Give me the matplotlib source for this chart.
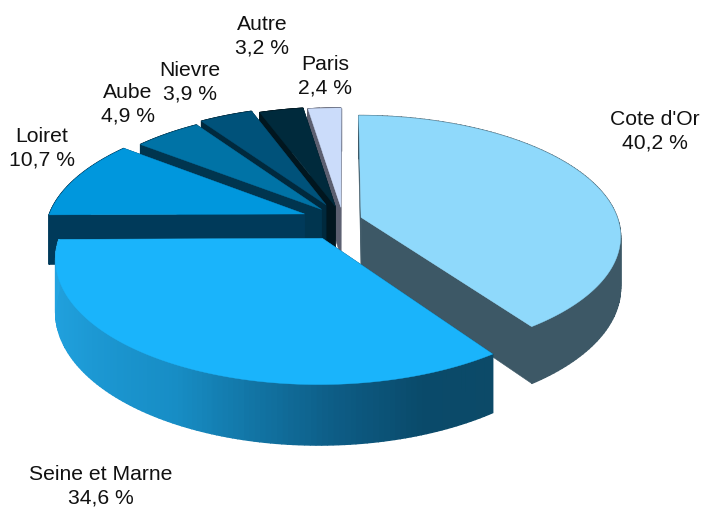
import numpy as np
import matplotlib
matplotlib.use("agg")
import matplotlib.pyplot as plt
from matplotlib.colors import LinearSegmentedColormap

names = ["Cote d'Or", "Seine et Marne", "Loiret", "Aube", "Nievre", "Autre", "Paris"]
values = [40.2, 34.6, 10.7, 4.9, 3.9, 3.2, 2.4]

top_colors = ["#8FD9FB", "#1AB4FB", "#0097DD", "#0073A6", "#00527A", "#002A3C", "#CBDCFA"]
wall_colors = ["#3D5866", "#0A4A68", "#003A5A", "#00354F", "#00293D", "#01161F", "#5B5F70"]
explode = [19, 44, 41, 32, 38, 31, 28]
label_pos = [(655, 131), (101, 486), (42, 148), (128, 104), (190, 82), (262, 36), (325, 76)]
draw_order = [6, 5, 4, 3, 2, 0, 1]

# pie geometry, in pixels
cx, cy = 343, 220
radius = 257
squash = 0.459
persp = 0.151
depth = 50

seine_cmap = LinearSegmentedColormap.from_list(
    "seine", [(0, "#0C4A68"), (0.12, "#0A4A6A"), (0.25, "#0D5C85"),
              (0.5, "#178DC5"), (0.75, "#1E9CD8"), (1, "#24A5E2")])


def project(x, z, down=0.0):
    s = 1 / (1 - persp * z / radius)
    return cx + x * s, cy + z * squash * s + down * s


fig = plt.figure(figsize=(7.05, 5.07), dpi=100)
ax = fig.add_axes([0, 0, 1, 1])
ax.set_xlim(0, 705)
ax.set_ylim(507, 0)
ax.axis("off")

edges = np.concatenate([[0], np.cumsum(values)]) / np.sum(values) * 2 * np.pi

for i in draw_order:
    t0, t1 = edges[i], edges[i + 1]
    mid = (t0 + t1) / 2
    ox = explode[i] * np.sin(mid)
    oz = -explode[i] * np.cos(mid)

    t = np.linspace(t0, t1, 120)
    arc_x = ox + radius * np.sin(t)
    arc_z = oz - radius * np.cos(t)

    # cut faces
    for te in (t0, t1):
        ex = ox + radius * np.sin(te)
        ez = oz - radius * np.cos(te)
        a = project(ox, oz)
        b = project(ex, ez)
        c = project(ex, ez, depth)
        d = project(ox, oz, depth)
        ax.fill([a[0], b[0], c[0], d[0]], [a[1], b[1], c[1], d[1]],
                color=wall_colors[i], lw=0.4)

    # outer wall
    tx, ty = project(arc_x, arc_z)
    bx, by = project(arc_x, arc_z, depth)
    for j in range(len(t) - 1):
        if i == 1:
            col = seine_cmap((t[j] - t0) / (t1 - t0))
        else:
            col = wall_colors[i]
        ax.fill([tx[j], tx[j + 1], bx[j + 1], bx[j]],
                [ty[j], ty[j + 1], by[j + 1], by[j]], color=col, lw=1.0)

    # top
    ax0, ay0 = project(ox, oz)
    ax.fill(np.r_[ax0, tx], np.r_[ay0, ty], color=top_colors[i], lw=0.3)

for name, val, pos in zip(names, values, label_pos):
    txt = f"{name}\n{val:.1f} %".replace(".", ",")
    ax.text(pos[0], pos[1], txt, ha="center", va="center", fontsize=15.2,
            family="Liberation Sans", color="#111111", linespacing=1.27)

plt.savefig("out.png", dpi=100)
